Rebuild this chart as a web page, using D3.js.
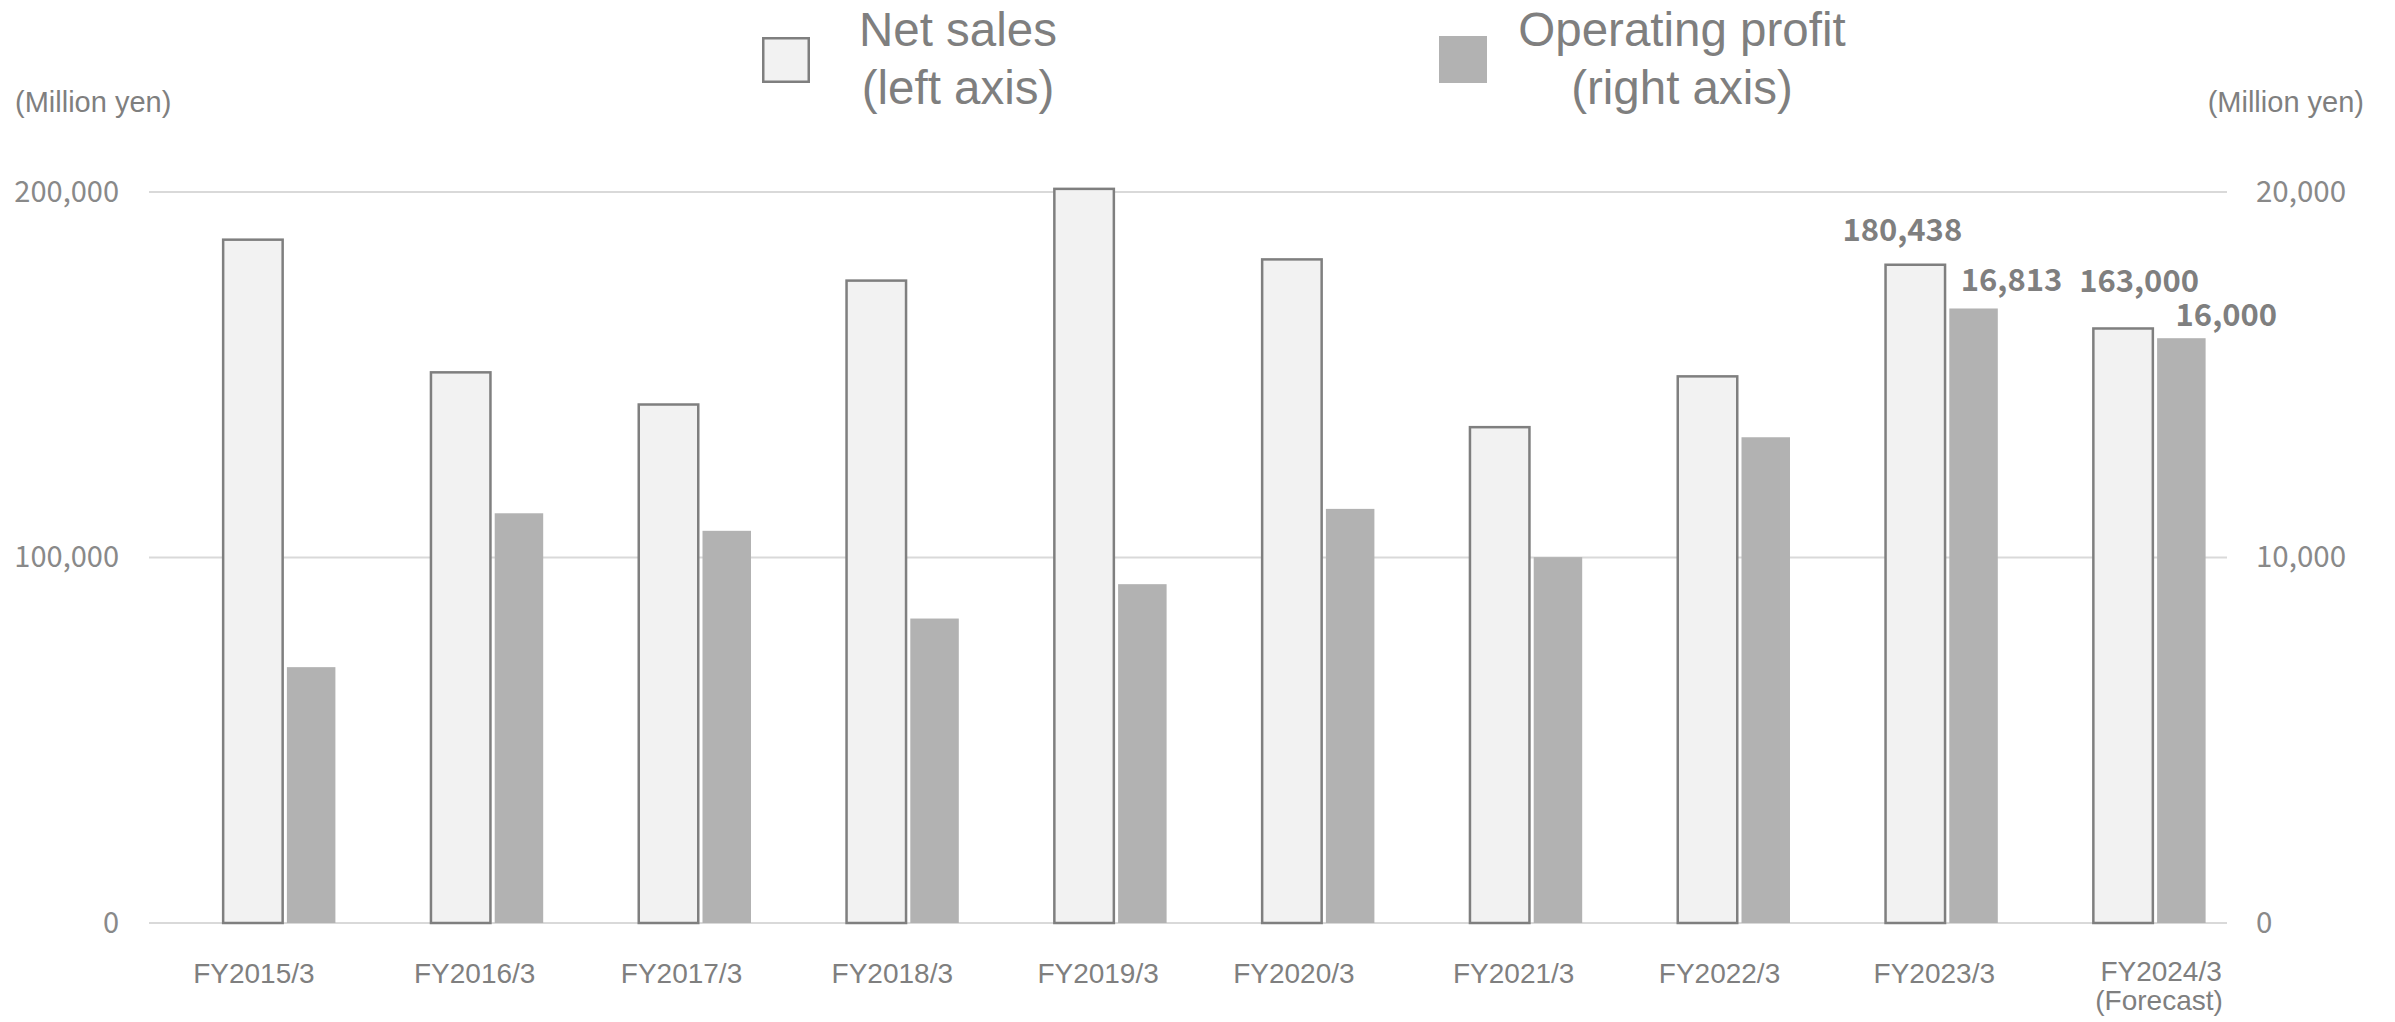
<!DOCTYPE html>
<html>
<head>
<meta charset="utf-8">
<script src="https://cdn.jsdelivr.net/npm/d3@7/dist/d3.min.js"></script>
<style>
  html, body { margin: 0; padding: 0; background: #ffffff; }
  svg { display: block; }
</style>
</head>
<body>
<script>
// ---------------- data ----------------
const categories = ["FY2015/3","FY2016/3","FY2017/3","FY2018/3","FY2019/3","FY2020/3","FY2021/3","FY2022/3","FY2023/3","FY2024/3"];
const categorySubLabels = ["","","","","","","","","","(Forecast)"];
const netSales = [187300, 151000, 142200, 176100, 201200, 181900, 136000, 149900, 180438, 163000];
const operatingProfit = [7000, 11210, 10730, 8330, 9270, 11330, 10010, 13290, 16813, 16000];
const leftTicks = [0, 100000, 200000];
const rightTicks = [0, 10000, 20000];
const seriesNames = [["Net sales", "(left axis)"], ["Operating profit", "(right axis)"]];
const unitLabel = "(Million yen)";
// labelled values: [category index, series] with label nudges (layout)
const labelled = [
  {i: 8, s: "net", dx: -13, dy: -22},
  {i: 8, s: "op",  dx: 38,  dy: -17},
  {i: 9, s: "net", dx: 16,  dy: -35},
  {i: 9, s: "op",  dx: 45,  dy: -12}
];
// category label horizontal nudges (layout only)
const labelNudge = [1, 14, 13, 16, 14, 2, 14, 12, 19, 38];

// ---------------- layout ----------------
const W = 2395, H = 1022;
const plotLeft = 149, plotRight = 2227, plotTop = 192, plotBottom = 923;
const textColor = "#7f7f7f";
const tickColor = "#898989";
const gridColor = "#d9d9d9";
const netFill = "#f2f2f2", netStroke = "#7f7f7f", opFill = "#b2b2b2";
const arial = "'Liberation Sans', Arial, sans-serif";
const jp = "'Noto Sans CJK JP', 'Noto Sans', sans-serif";

const svg = d3.select("body").append("svg")
  .attr("width", W).attr("height", H)
  .attr("viewBox", `0 0 ${W} ${H}`);

const x = d3.scaleBand().domain(categories).range([plotLeft, plotRight]).padding(0);
const yL = d3.scaleLinear().domain([0, 200000]).range([plotBottom, plotTop]);
const yR = d3.scaleLinear().domain([0, 20000]).range([plotBottom, plotTop]);
const fmt = d3.format(",");

// gridlines
svg.append("g").selectAll("line").data(leftTicks).join("line")
  .attr("x1", plotLeft).attr("x2", plotRight)
  .attr("y1", d => yL(d)).attr("y2", d => yL(d))
  .attr("stroke", gridColor).attr("stroke-width", 2);

// left axis labels
const leftAxis = d3.axisLeft(yL).tickValues(leftTicks).tickFormat(fmt).tickSize(0).tickPadding(0);
const gL = svg.append("g").attr("transform", `translate(119,0)`).call(leftAxis);
gL.select(".domain").remove();
gL.selectAll("text").attr("font-family", jp).attr("font-size", 29).attr("fill", tickColor)
  .attr("dy", "0.32em");

// right axis labels
const rightAxis = d3.axisRight(yR).tickValues(rightTicks).tickFormat(fmt).tickSize(0).tickPadding(0);
const gR = svg.append("g").attr("transform", `translate(2256,0)`).call(rightAxis);
gR.select(".domain").remove();
gR.selectAll("text").attr("font-family", jp).attr("font-size", 29.5).attr("fill", tickColor)
  .attr("dy", "0.32em");

// bars
const cx = d => x(d) + x.bandwidth() / 2;
const netW = 59.5, opW = 48.5;
svg.append("g").selectAll("rect").data(categories).join("rect")
  .attr("x", (d) => cx(d) - netW / 2)
  .attr("width", netW)
  .attr("y", (d, i) => yL(netSales[i]) + 1.25)
  .attr("height", (d, i) => plotBottom - yL(netSales[i]) - 1.25)
  .attr("fill", netFill).attr("stroke", netStroke).attr("stroke-width", 2.5);

svg.append("g").selectAll("rect").data(categories).join("rect")
  .attr("x", (d) => cx(d) + 34)
  .attr("width", opW)
  .attr("y", (d, i) => yR(operatingProfit[i]))
  .attr("height", (d, i) => plotBottom - yR(operatingProfit[i]))
  .attr("fill", opFill);

// data labels
svg.append("g").selectAll("text").data(labelled).join("text")
  .attr("x", d => d.s === "net" ? cx(categories[d.i]) + d.dx : cx(categories[d.i]) + 34 + opW / 2 + d.dx)
  .attr("y", d => (d.s === "net" ? yL(netSales[d.i]) : yR(operatingProfit[d.i])) + d.dy)
  .attr("text-anchor", "middle")
  .attr("font-family", jp).attr("font-weight", 700).attr("font-size", 31)
  .attr("fill", textColor)
  .text(d => fmt(d.s === "net" ? netSales[d.i] : operatingProfit[d.i]));

// category labels
const catG = svg.append("g");
catG.selectAll("text.cat").data(categories).join("text").attr("class", "cat")
  .attr("x", (d, i) => cx(d) + labelNudge[i])
  .attr("y", (d, i) => categorySubLabels[i] ? 981 : 983)
  .attr("text-anchor", "middle")
  .attr("font-family", arial).attr("font-size", 28).attr("fill", textColor)
  .text(d => d);
catG.selectAll("text.sub").data(categories.filter((d, i) => categorySubLabels[i])).join("text").attr("class", "sub")
  .attr("x", d => cx(d) + labelNudge[categories.indexOf(d)] - 2)
  .attr("y", 1010)
  .attr("text-anchor", "middle")
  .attr("font-family", arial).attr("font-size", 28).attr("fill", textColor)
  .text(d => categorySubLabels[categories.indexOf(d)]);

// unit labels
svg.append("text").attr("x", 15).attr("y", 112)
  .attr("font-family", arial).attr("font-size", 29).attr("fill", textColor)
  .text(unitLabel);
svg.append("text").attr("x", 2364).attr("y", 112).attr("text-anchor", "end")
  .attr("font-family", arial).attr("font-size", 29).attr("fill", textColor)
  .text(unitLabel);

// legend
const leg = svg.append("g");
leg.append("rect").attr("x", 763.25).attr("y", 38.25).attr("width", 45.5).attr("height", 43.5)
  .attr("fill", netFill).attr("stroke", netStroke).attr("stroke-width", 2.5);
leg.append("rect").attr("x", 1439).attr("y", 36).attr("width", 48).attr("height", 47)
  .attr("fill", opFill);
const legendText = [
  {cx: 958, lines: seriesNames[0]},
  {cx: 1682, lines: seriesNames[1]}
];
legendText.forEach(l => {
  const t = leg.append("text").attr("text-anchor", "middle")
    .attr("font-family", arial).attr("font-size", 47.5).attr("fill", textColor);
  t.append("tspan").attr("x", l.cx).attr("y", 46).text(l.lines[0]);
  t.append("tspan").attr("x", l.cx).attr("y", 104).text(l.lines[1]);
});
</script>
</body>
</html>
